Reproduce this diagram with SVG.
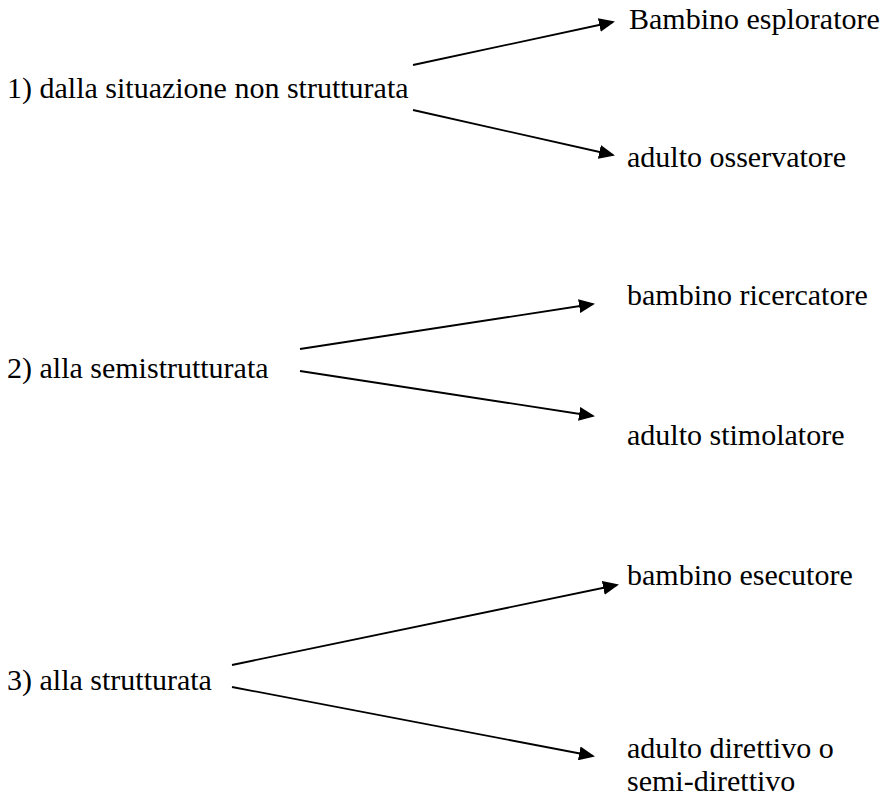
<svg xmlns="http://www.w3.org/2000/svg" width="883" height="796" viewBox="0 0 883 796">
<defs>
<style>
text{font-family:'Liberation Serif','Times New Roman',Times,serif;font-size:30px;fill:#000}
.c line{stroke:#000;stroke-width:1.8;fill:none;marker-end:url(#ah)}
</style>
<marker id="ah" markerUnits="userSpaceOnUse" markerWidth="16" markerHeight="14" refX="14" refY="7" orient="auto" viewBox="0 0 16 14">
<path d="M0,0 L16,7 L0,14 z" fill="#000"/>
</marker>
</defs>
<rect width="883" height="796" fill="#fff"/>
<g id="n1"><text x="7" y="98">1) dalla situazione non strutturata</text></g>
<g id="n1a"><text x="629" y="29">Bambino esploratore</text></g>
<g id="n1b"><text x="627" y="167">adulto osservatore</text></g>
<g id="n2"><text x="7" y="378">2) alla semistrutturata</text></g>
<g id="n2a"><text x="627" y="305">bambino ricercatore</text></g>
<g id="n2b"><text x="627" y="445">adulto stimolatore</text></g>
<g id="n3"><text x="7" y="690">3) alla strutturata</text></g>
<g id="n3a"><text x="627" y="585">bambino esecutore</text></g>
<g id="n3b"><text x="627" y="758">adulto direttivo o</text><text x="627" y="791">semi-direttivo</text></g>
<g class="c" id="connectors">
<line x1="413" y1="65" x2="613" y2="22"/>
<line x1="413" y1="110" x2="613" y2="155"/>
<line x1="300" y1="349" x2="593" y2="304"/>
<line x1="300" y1="371" x2="593" y2="416"/>
<line x1="232" y1="665" x2="617" y2="585"/>
<line x1="232" y1="687" x2="593" y2="756"/>
</g>
</svg>
